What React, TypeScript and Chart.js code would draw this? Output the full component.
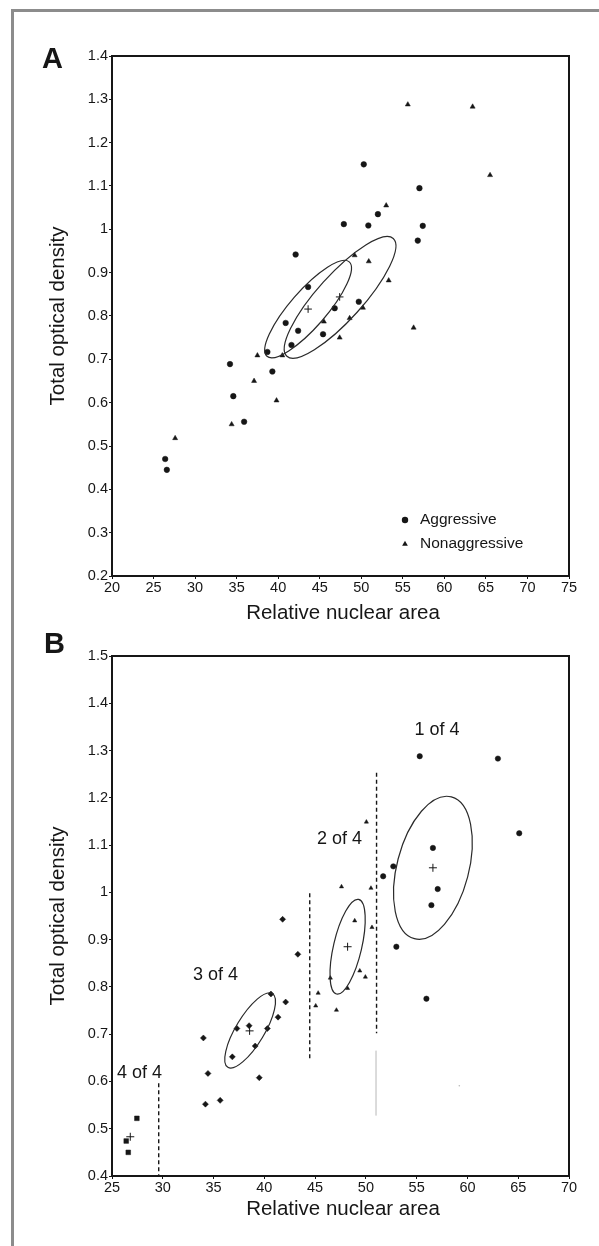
import React, { useEffect, useRef } from 'react';
import { Chart, registerables } from 'chart.js';

Chart.register(...registerables);

const FONT = '"Liberation Sans", Arial, Helvetica, sans-serif';
const INK = '#161616';

// ---------------- Panel A ----------------
const xTicksA = [20, 25, 30, 35, 40, 45, 50, 55, 60, 65, 70, 75];
const xTickLabelsA = ['20', '25', '30', '35', '40', '45', '50', '55', '60', '65', '70', '75'];
const yTicksA = [0.2, 0.3, 0.4, 0.5, 0.6, 0.7, 0.8, 0.9, 1.0, 1.1, 1.2, 1.3, 1.4];
const yTickLabelsA = ['0.2', '0.3', '0.4', '0.5', '0.6', '0.7', '0.8', '0.9', '1', '1.1', '1.2', '1.3', '1.4'];

const aggressiveX = [26.4, 26.6, 34.2, 34.6, 35.9, 38.7, 39.3, 40.9, 41.6, 42.1, 42.4, 43.6, 45.4, 46.8, 47.9, 49.7, 50.3, 50.85, 52.0, 56.8, 57.0, 57.4];
const aggressiveY = [0.470, 0.445, 0.689, 0.615, 0.556, 0.717, 0.672, 0.784, 0.733, 0.942, 0.766, 0.867, 0.758, 0.818, 1.012, 0.833, 1.150, 1.009, 1.035, 0.974, 1.095, 1.008];
const nonaggressiveX = [27.6, 34.4, 37.1, 37.5, 39.8, 40.5, 45.5, 47.4, 48.6, 49.2, 50.2, 50.9, 53.0, 53.3, 55.6, 56.3, 63.4, 65.5];
const nonaggressiveY = [0.518, 0.550, 0.650, 0.709, 0.605, 0.709, 0.787, 0.750, 0.795, 0.940, 0.819, 0.926, 1.055, 0.882, 1.288, 0.773, 1.283, 1.125];
const centroidAX = [43.6, 47.4];
const centroidAY = [0.816, 0.844];
// ellipses: centre, one end of the major axis, minor/major ratio
const ellipseACx = [43.6, 47.45];
const ellipseACy = [0.816, 0.843];
const ellipseAEx = [48.55, 53.85];
const ellipseAEy = [0.925, 0.979];
const ellipseARatio = [0.29, 0.285];
const legendLabelsA = ['Aggressive', 'Nonaggressive'];

// ---------------- Panel B ----------------
const xTicksB = [25, 30, 35, 40, 45, 50, 55, 60, 65, 70];
const xTickLabelsB = ['25', '30', '35', '40', '45', '50', '55', '60', '65', '70'];
const yTicksB = [0.4, 0.5, 0.6, 0.7, 0.8, 0.9, 1.0, 1.1, 1.2, 1.3, 1.4, 1.5];
const yTickLabelsB = ['0.4', '0.5', '0.6', '0.7', '0.8', '0.9', '1', '1.1', '1.2', '1.3', '1.4', '1.5'];

const cluster1X = [51.7, 52.7, 53.0, 55.3, 55.96, 56.45, 56.6, 57.07, 63.0, 65.1];
const cluster1Y = [1.034, 1.055, 0.885, 1.288, 0.775, 0.973, 1.094, 1.007, 1.283, 1.125];
const cluster2X = [45.06, 45.3, 46.5, 47.1, 48.2, 49.4, 49.95, 48.9, 50.6, 47.6, 50.5, 50.05];
const cluster2Y = [0.760, 0.787, 0.819, 0.751, 0.797, 0.834, 0.821, 0.940, 0.926, 1.012, 1.009, 1.149];
const cluster3X = [34.0, 34.45, 34.2, 35.65, 36.85, 37.3, 38.5, 39.1, 39.5, 40.3, 40.65, 41.35, 42.1, 41.8, 43.3];
const cluster3Y = [0.692, 0.617, 0.552, 0.560, 0.652, 0.712, 0.718, 0.675, 0.608, 0.712, 0.785, 0.736, 0.768, 0.943, 0.869];
const cluster4X = [26.4, 26.6, 27.45];
const cluster4Y = [0.474, 0.450, 0.522];
const centroidBX = [56.6, 48.2, 38.55, 26.8];
const centroidBY = [1.052, 0.885, 0.707, 0.483];
const ellipseBCx = [56.6, 48.2, 38.6];
const ellipseBCy = [1.052, 0.885, 0.708];
const ellipseBEx = [58.42, 49.29, 40.79];
const ellipseBEy = [1.202, 0.985, 0.786];
const ellipseBRatio = [0.49, 0.29, 0.33];
const dividerX = [51.05, 44.47, 29.6];
const dividerTop = [1.253, 0.998, 0.596];
const dividerBottom = [0.702, 0.645, 0.4];
const clusterLabels = ['1 of 4', '2 of 4', '3 of 4', '4 of 4'];
const clusterLabelX = [57.0, 47.4, 35.2, 27.7];
const clusterLabelY = [1.343, 1.113, 0.825, 0.617];
const scanLineX = [51.0, 51.0];
const scanLineY = [0.665, 0.528];
const scanDotX = [59.2];
const scanDotY = [0.591];

const X_TITLE = 'Relative nuclear area';
const Y_TITLE = 'Total optical density';

const pts = (xs: number[], ys: number[]) => xs.map((x, i) => ({ x, y: ys[i] }));

function axis(min: number, max: number, ticks: number[], labels: string[], key: 'width' | 'height', size: number, pad: number) {
  return {
    type: 'linear',
    min,
    max,
    afterBuildTicks: (s: any) => {
      s.ticks = ticks.map((v) => ({ value: v }));
    },
    afterFit: (s: any) => {
      s[key] = size;
    },
    ticks: {
      autoSkip: false,
      maxRotation: 0,
      minRotation: 0,
      padding: pad,
      color: INK,
      font: { family: FONT, size: 14.5 },
      callback: (_v: any, i: number) => labels[i],
    },
    grid: { display: true, drawOnChartArea: false, drawTicks: true, tickLength: 3, color: INK, lineWidth: 1 },
    border: { display: false },
  };
}

function drawEllipses(chart: any, cx: number[], cy: number[], ex: number[], ey: number[], ratio: number[]) {
  const { ctx, scales } = chart;
  const xs = scales.x;
  const ys = scales.y;
  ctx.save();
  ctx.strokeStyle = '#2a2a2a';
  ctx.lineWidth = 1.2;
  cx.forEach((_, i) => {
    const pcx = xs.getPixelForValue(cx[i]);
    const pcy = ys.getPixelForValue(cy[i]);
    const pex = xs.getPixelForValue(ex[i]);
    const pey = ys.getPixelForValue(ey[i]);
    const a = Math.hypot(pex - pcx, pey - pcy);
    const ang = Math.atan2(pey - pcy, pex - pcx);
    ctx.beginPath();
    ctx.ellipse(pcx, pcy, a, a * ratio[i], ang, 0, Math.PI * 2);
    ctx.stroke();
  });
  ctx.restore();
}

function drawFrameAndTitles(chart: any, letter: string, letterX: number, letterY: number, xTitleY: number) {
  const { ctx, chartArea } = chart;
  const { left, right, top, bottom } = chartArea;
  ctx.save();
  ctx.strokeStyle = INK;
  ctx.lineWidth = 2;
  ctx.strokeRect(left, top, right - left, bottom - top);
  ctx.fillStyle = INK;
  ctx.font = `20.5px ${FONT}`;
  ctx.textAlign = 'center';
  ctx.textBaseline = 'middle';
  ctx.fillText(X_TITLE, 343, xTitleY);
  ctx.save();
  ctx.translate(64, (top + bottom) / 2);
  ctx.rotate(-Math.PI / 2);
  ctx.textBaseline = 'alphabetic';
  ctx.fillText(Y_TITLE, 0, 0);
  ctx.restore();
  ctx.font = `bold 29px ${FONT}`;
  ctx.textAlign = 'left';
  ctx.textBaseline = 'alphabetic';
  ctx.fillText(letter, letterX, letterY);
  ctx.restore();
}

function buildA() {
  const overlay = {
    id: 'overlayA',
    afterDatasetsDraw(chart: any) {
      drawEllipses(chart, ellipseACx, ellipseACy, ellipseAEx, ellipseAEy, ellipseARatio);
    },
    afterDraw(chart: any) {
      drawFrameAndTitles(chart, 'A', 42, 68, 613);
      const { ctx } = chart;
      ctx.save();
      ctx.fillStyle = INK;
      // legend
      ctx.beginPath();
      ctx.arc(405, 520, 3.2, 0, Math.PI * 2);
      ctx.fill();
      ctx.beginPath();
      const r = 3.3;
      ctx.moveTo(405, 544 - r);
      ctx.lineTo(405 + r * 0.866, 544 + r * 0.5);
      ctx.lineTo(405 - r * 0.866, 544 + r * 0.5);
      ctx.closePath();
      ctx.fill();
      ctx.font = `15.5px ${FONT}`;
      ctx.textAlign = 'left';
      ctx.textBaseline = 'middle';
      ctx.fillText(legendLabelsA[0], 420, 520);
      ctx.fillText(legendLabelsA[1], 420, 544);
      ctx.restore();
    },
  };
  return {
    type: 'scatter',
    data: {
      datasets: [
        { label: legendLabelsA[0], data: pts(aggressiveX, aggressiveY), pointStyle: 'circle', pointRadius: 2.8, pointBackgroundColor: INK, pointBorderColor: INK, pointBorderWidth: 0.5 },
        { label: legendLabelsA[1], data: pts(nonaggressiveX, nonaggressiveY), pointStyle: 'triangle', pointRadius: 2.9, pointBackgroundColor: INK, pointBorderColor: INK, pointBorderWidth: 0.5 },
        { label: 'centroid', data: pts(centroidAX, centroidAY), pointStyle: 'cross', pointRadius: 3.8, pointBorderColor: INK, pointBorderWidth: 1 },
      ],
    },
    options: {
      animation: false,
      responsive: false,
      devicePixelRatio: 1,
      layout: { padding: { left: 0, right: 30, top: 56, bottom: 0 } },
      plugins: { legend: { display: false }, tooltip: { enabled: false } },
      scales: {
        x: axis(20, 75, xTicksA, xTickLabelsA, 'height', 44, 0),
        y: axis(0.2, 1.4, yTicksA, yTickLabelsA, 'width', 112, 1),
      },
    },
    plugins: [overlay],
  };
}

function buildB() {
  const overlay = {
    id: 'overlayB',
    afterDatasetsDraw(chart: any) {
      drawEllipses(chart, ellipseBCx, ellipseBCy, ellipseBEx, ellipseBEy, ellipseBRatio);
      const { ctx, scales } = chart;
      ctx.save();
      ctx.fillStyle = INK;
      ctx.font = `18px ${FONT}`;
      ctx.textAlign = 'center';
      ctx.textBaseline = 'middle';
      clusterLabels.forEach((t, i) => {
        ctx.fillText(t, scales.x.getPixelForValue(clusterLabelX[i]), scales.y.getPixelForValue(clusterLabelY[i]));
      });
      ctx.restore();
    },
    afterDraw(chart: any) {
      drawFrameAndTitles(chart, 'B', 44, 33, 589);
    },
  };
  const dividers = dividerX.map((x, i) => ({
    label: 'divider' + i,
    type: 'scatter',
    data: [{ x, y: dividerTop[i] }, { x, y: dividerBottom[i] }],
    showLine: true,
    borderColor: INK,
    borderWidth: 1.4,
    borderDash: [4, 3],
    pointRadius: 0,
  }));
  return {
    type: 'scatter',
    data: {
      datasets: [
        ...dividers,
        { label: 'scan', data: pts(scanLineX, scanLineY), showLine: true, borderColor: '#d6d6d6', borderWidth: 1, pointRadius: 0 },
        { label: 'scandot', data: pts(scanDotX, scanDotY), pointRadius: 0.8, pointBackgroundColor: '#b8b8b8', pointBorderWidth: 0 },
        { label: '1 of 4', data: pts(cluster1X, cluster1Y), pointStyle: 'circle', pointRadius: 2.7, pointBackgroundColor: INK, pointBorderColor: INK, pointBorderWidth: 0.5 },
        { label: '2 of 4', data: pts(cluster2X, cluster2Y), pointStyle: 'triangle', pointRadius: 2.4, pointBackgroundColor: INK, pointBorderColor: INK, pointBorderWidth: 0.5 },
        { label: '3 of 4', data: pts(cluster3X, cluster3Y), pointStyle: 'rectRot', pointRadius: 3.0, pointBackgroundColor: INK, pointBorderColor: INK, pointBorderWidth: 0.5 },
        { label: '4 of 4', data: pts(cluster4X, cluster4Y), pointStyle: 'rect', pointRadius: 3.3, pointBackgroundColor: INK, pointBorderColor: INK, pointBorderWidth: 0.5 },
        { label: 'centroid', data: pts(centroidBX, centroidBY), pointStyle: 'cross', pointRadius: 4, pointBorderColor: INK, pointBorderWidth: 1 },
      ],
    },
    options: {
      animation: false,
      responsive: false,
      devicePixelRatio: 1,
      layout: { padding: { left: 0, right: 30, top: 36, bottom: 0 } },
      plugins: { legend: { display: false }, tooltip: { enabled: false } },
      scales: {
        x: axis(25, 70, xTicksB, xTickLabelsB, 'height', 70, 0),
        y: axis(0.4, 1.5, yTicksB, yTickLabelsB, 'width', 112, 1),
      },
    },
    plugins: [overlay],
  };
}

function Panel({ build, top, height }: { build: () => any; top: number; height: number }) {
  const ref = useRef<HTMLCanvasElement>(null);
  useEffect(() => {
    const chart = new Chart(ref.current as HTMLCanvasElement, build());
    return () => chart.destroy();
  }, []);
  return (
    <canvas
      ref={ref}
      width={599}
      height={height}
      style={{ position: 'absolute', left: 0, top, width: 599, height, display: 'block' }}
    />
  );
}

export default function App() {
  return (
    <div style={{ position: 'absolute', left: 0, top: 0, width: 599, height: 1246, background: '#fff', overflow: 'hidden' }}>
      <div
        style={{
          position: 'absolute',
          left: 11,
          top: 9,
          width: 599,
          height: 1246,
          borderLeft: '3px solid #8c8c8c',
          borderTop: '3px solid #8c8c8c',
        }}
      />
      <Panel build={buildA} top={0} height={620} />
      <Panel build={buildB} top={620} height={626} />
    </div>
  );
}
